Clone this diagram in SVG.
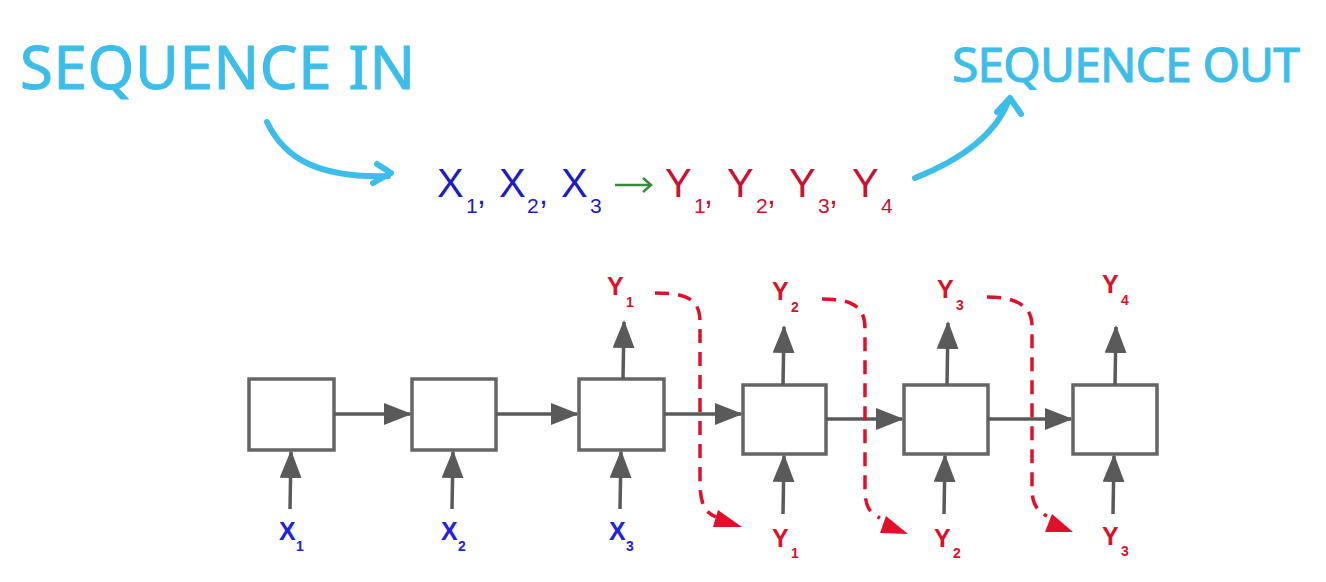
<svg xmlns="http://www.w3.org/2000/svg" width="1326" height="582" viewBox="0 0 1326 582">
<style>
.hand{font-family:"Noto Sans","DejaVu Sans",sans-serif;font-weight:normal;fill:#3dbde9;stroke:#3dbde9;stroke-width:1;stroke-linejoin:round;}
.handline{fill:none;stroke:#3dbde9;stroke-width:6;stroke-linecap:round;stroke-linejoin:round;}
.seq{font-family:"Liberation Sans",Arial,sans-serif;}
.bl{fill:#1c1cc4;}
.rd{fill:#cc1030;}
.lab{font-family:"Liberation Sans",Arial,sans-serif;font-weight:bold;font-size:25px;}
.sub{font-family:"Liberation Sans",Arial,sans-serif;font-weight:bold;font-size:14px;}
.lb{fill:#2222dd;}
.lr{fill:#dd1028;}
.box{fill:#ffffff;stroke:#666666;stroke-width:3.5;}
.edge{fill:none;stroke:#5a5a5a;stroke-width:3.5;}
.dash{fill:none;stroke:#e0102a;stroke-width:3.5;stroke-dasharray:14 9;}
.rhead{fill:#e0102a;}
</style>
<defs>
<marker id="ah" markerUnits="userSpaceOnUse" markerWidth="28" markerHeight="22" refX="26" refY="11" orient="auto">
<path d="M0,0 L28,11 L0,22 Z" fill="#5a5a5a"/>
</marker>
</defs>
<rect width="1326" height="582" fill="#ffffff"/>

<g id="title-in">
<text class="hand" x="20" y="89" font-size="60" textLength="395" lengthAdjust="spacing">SEQUENCE IN</text>
<path class="handline" d="M267,122 C285,160 320,178 388,176"/>
<path class="handline" d="M377,164 L391,173 L373,183"/>
</g>
<g id="title-out">
<text class="hand" x="952" y="82" font-size="48" textLength="348" lengthAdjust="spacing">SEQUENCE OUT</text>
<path class="handline" d="M915,178 C960,160 995,135 1008,102"/>
<path class="handline" d="M997,112 L1010,98 L1021,114"/>
</g>

<g id="sequence">
<text class="seq bl" x="437" y="197" font-size="40">X</text>
<text class="seq bl" x="466" y="213" font-size="21">1</text>
<text class="seq bl" x="477" y="204" font-size="32">,</text>
<text class="seq bl" x="499" y="197" font-size="40">X</text>
<text class="seq bl" x="527" y="213" font-size="21">2</text>
<text class="seq bl" x="539" y="204" font-size="32">,</text>
<text class="seq bl" x="561" y="197" font-size="40">X</text>
<text class="seq bl" x="590" y="213" font-size="21">3</text>
<g>
<line x1="615" y1="185" x2="650" y2="185" stroke="#3a8a3a" stroke-width="2.5"/>
<path d="M643,178 L651,185 L643,192" fill="none" stroke="#3a8a3a" stroke-width="2.5"/>
</g>
<text class="seq rd" x="665" y="197" font-size="40">Y</text>
<text class="seq rd" x="694" y="213" font-size="21">1</text>
<text class="seq rd" x="704" y="204" font-size="32">,</text>
<text class="seq rd" x="727" y="197" font-size="40">Y</text>
<text class="seq rd" x="756" y="213" font-size="21">2</text>
<text class="seq rd" x="767" y="204" font-size="32">,</text>
<text class="seq rd" x="789" y="197" font-size="40">Y</text>
<text class="seq rd" x="818" y="213" font-size="21">3</text>
<text class="seq rd" x="829" y="204" font-size="32">,</text>
<text class="seq rd" x="852" y="197" font-size="40">Y</text>
<text class="seq rd" x="881" y="213" font-size="21">4</text>
</g>

<g id="cell1"><rect class="box" x="249" y="379" width="85" height="71"/></g>
<g id="cell2"><rect class="box" x="412" y="379" width="84" height="71"/></g>
<g id="cell3"><rect class="box" x="579" y="379" width="85" height="71"/></g>
<g id="cell4"><rect class="box" x="743" y="385" width="83" height="69"/></g>
<g id="cell5"><rect class="box" x="904" y="385" width="84" height="69"/></g>
<g id="cell6"><rect class="box" x="1073" y="385" width="84" height="69"/></g>

<g id="connectors">
<line class="edge" x1="334" y1="414" x2="410" y2="414" marker-end="url(#ah)"/>
<line class="edge" x1="496" y1="414" x2="577" y2="414" marker-end="url(#ah)"/>
<line class="edge" x1="664" y1="414" x2="741" y2="414" marker-end="url(#ah)"/>
<line class="edge" x1="826" y1="419" x2="902" y2="419" marker-end="url(#ah)"/>
<line class="edge" x1="988" y1="419" x2="1071" y2="419" marker-end="url(#ah)"/>

<line class="edge" x1="290" y1="509" x2="291" y2="452" marker-end="url(#ah)"/>
<line class="edge" x1="452" y1="509" x2="453" y2="452" marker-end="url(#ah)"/>
<line class="edge" x1="620" y1="509" x2="621" y2="452" marker-end="url(#ah)"/>
<line class="edge" x1="783" y1="514" x2="784" y2="456" marker-end="url(#ah)"/>
<line class="edge" x1="944" y1="514" x2="945" y2="456" marker-end="url(#ah)"/>
<line class="edge" x1="1113" y1="514" x2="1114" y2="456" marker-end="url(#ah)"/>

<line class="edge" x1="623" y1="379" x2="624" y2="322" marker-end="url(#ah)"/>
<line class="edge" x1="783" y1="385" x2="784" y2="327" marker-end="url(#ah)"/>
<line class="edge" x1="947" y1="385" x2="948" y2="323" marker-end="url(#ah)"/>
<line class="edge" x1="1115" y1="385" x2="1116" y2="327" marker-end="url(#ah)"/>

<path class="dash" d="M655,293 C685,293 700,298 700,322 L700,480 C700,503 704,512 716,517"/>
<polygon class="rhead" points="718,510 742,527 713,527"/>
<path class="dash" d="M822,299 C850,299 865,305 865,328 L865,488 C865,505 868,512 880,518"/>
<polygon class="rhead" points="886,516 908,534 880,533"/>
<path class="dash" d="M987,297 C1015,297 1032,305 1032,326 L1032,488 C1032,503 1036,510 1047,516"/>
<polygon class="rhead" points="1052,514 1073,532 1045,532"/>
</g>

<g id="labels">
<text class="lab lb" x="279" y="540">X</text><text class="sub lb" x="296" y="551">1</text>
<text class="lab lb" x="441" y="540">X</text><text class="sub lb" x="458" y="551">2</text>
<text class="lab lb" x="609" y="540">X</text><text class="sub lb" x="626" y="551">3</text>

<text class="lab lr" x="607" y="295">Y</text><text class="sub lr" x="626" y="307">1</text>
<text class="lab lr" x="772" y="300">Y</text><text class="sub lr" x="791" y="312">2</text>
<text class="lab lr" x="937" y="298">Y</text><text class="sub lr" x="956" y="310">3</text>
<text class="lab lr" x="1102" y="293">Y</text><text class="sub lr" x="1121" y="305">4</text>

<text class="lab lr" x="772" y="547">Y</text><text class="sub lr" x="791" y="558">1</text>
<text class="lab lr" x="934" y="547">Y</text><text class="sub lr" x="953" y="558">2</text>
<text class="lab lr" x="1102" y="545">Y</text><text class="sub lr" x="1121" y="556">3</text>
</g>
</svg>
